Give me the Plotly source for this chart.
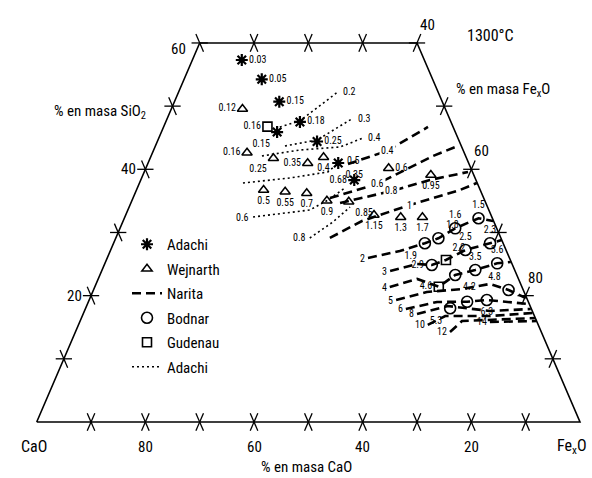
import plotly.graph_objects as go

FONT = "Liberation Sans Narrow, Roboto Condensed, DejaVu Sans Condensed, Liberation Sans, Arial, sans-serif"

# ---- data: compositions in mass % (SiO2, FexO); CaO = 100 - SiO2 - FexO ----
adachi_sio2 = [57.3, 54.25, 50.7, 47.5, 45.9, 44.4, 41.0, 38.3]
adachi_feo = [9.1, 14.3, 19.3, 24.7, 21.3, 29.4, 35.0, 39.3]
adachi_lab = ["0.03", "0.05", "0.15", "0.18", "0.15", "0.25", "0.35", "0.68"]
adachi_pos = ["middle right", "middle right", "middle right", "middle right",
              "bottom left", "middle right", "bottom right", "middle left"]

wej_sio2 = [49.55, 42.63, 41.74, 40.95, 41.9, 36.73, 36.46, 36.2, 35.03, 34.87,
            32.77, 32.4, 32.4, 40.16, 39.1]
wej_feo = [13.1, 17.4, 22.7, 29.4, 31.85, 23.4, 27.5, 31.6, 35.9, 40.0,
           45.7, 50.8, 54.8, 44.7, 53.0]
wej_lab = ["0.12", "0.16", "0.25", "0.35", "0.4", "0.5", "0.55", "0.7", "0.9", "0.85",
           "1.15", "1.3", "1.7", "0.6", "0.95"]
wej_pos = ["middle left", "middle left", "bottom left", "middle left", "bottom center",
           "bottom center", "bottom center", "bottom center", "bottom center", "bottom right",
           "bottom center", "bottom center", "bottom center", "middle right", "bottom center"]

bod_sio2 = [32.25, 30.66, 29.08, 28.29, 27.23, 28.29, 24.85, 24.06, 25.12, 23.27,
            20.9, 19.31, 19.04, 18.0]
bod_feo = [65.2, 61.7, 59.4, 57.3, 65.3, 69.3, 60.3, 68.7, 72.2, 65.4,
           76.4, 73.2, 69.7, 67.1]
bod_lab = ["1.5", "1.6", "1.8", "1.9", "2.5", "2.3", "2.9", "3.5", "3.6", "4.2",
           "4.8", "6.3", "", "5.3"]
bod_pos = ["top center", "top center", "top right", "bottom left", "top center", "top center",
           "middle left", "top center", "top center", "bottom right",
           "top left", "bottom center", "top center", "bottom left"]

gud_sio2 = [46.75, 25.65, 21.42]
gud_feo = [19.1, 62.5, 63.3]
gud_lab = ["0.16", "2.2", "4.6"]
gud_pos = ["middle left", "top right", "middle left"]

# Narita iso-lines (dashed)
narita_lab = ["0.4", "0.6", "0.8", "1", "2", "3", "4", "5", "6", "8", "10", "12", "14"]
narita_sio2 = [
    [40.84, 42.90, 46.70],
    [35.46, 37.68, 42.11, 43.69],
    [34.67, 36.57, 38.31, 39.58],
    [29.13, 31.82, 34.35, 36.73, 37.83],
    [25.96, 27.07, 28.29, 29.08, 30.66, 32.25, 31.82],
    [23.90, 25.01, 24.85, 25.65, 27.23, 28.29, 28.81],
    [21.37, 22.64, 21.42, 23.27, 24.06, 25.12, 25.33],
    [19.31, 20.58, 21.05, 21.85, 20.9, 19.63],
    [17.89, 19.0, 19.04, 19.31, 18.68],
    [17.10, 18.36, 17.57, 17.89],
    [15.36, 16.78, 16.78, 17.25],
    [14.25, 15.99, 16.46],
    [15.83, 15.99],
]
narita_feo = [
    [36.88, 43.03, 48.67],
    [36.25, 43.80, 51.89, 55.70],
    [38.5, 47.1, 53.2, 59.6],
    [39.4, 43.96, 51.5, 59.55, 62.1],
    [48.0, 53.3, 57.3, 59.4, 61.7, 65.2, 68.1],
    [53.1, 57.5, 60.3, 62.5, 65.3, 69.3, 71.2],
    [54.3, 58.7, 63.3, 65.4, 68.7, 72.2, 74.6],
    [56.5, 61.5, 67.75, 72.5, 76.4, 80.2],
    [59.0, 64.2, 69.7, 73.2, 81.2],
    [61.45, 66.5, 74.65, 82.0],
    [64.3, 66.8, 75.0, 82.7],
    [68.95, 70.3, 83.5],
    [75.5, 84.0],
]
narita_at = [1, 1, 1, 2, 0, 0, 0, 0, 0, 0, 0, 0, 0]   # vertex carrying the label

# Adachi iso-lines (dotted)
adl_lab = ["0.2", "0.3", "0.4", "0.5", "0.6", "0.8"]
adl_sio2 = [
    [46.7, 47.65, 52.24],
    [43.69, 44.64, 48.12],
    [42.11, 43.06, 43.53, 44.96],
    [37.83, 38.63, 39.58, 41.47],
    [32.45, 33.56, 35.14, 37.04],
    [29.13, 31.66, 34.03],
]
adl_feo = [
    [21.4, 24.6, 29.3],
    [23.85, 29.3, 34.2],
    [20.4, 26.9, 34.1, 37.6],
    [19.05, 27.3, 33.8, 35.45],
    [23.6, 33.5, 36.05, 38.2],
    [35.7, 38.7, 40.65],
]
adl_at = ["end", "end", "end", "end", "start", "start"]

# axis ticks (mass %)
bottom_ticks_feo = [10, 20, 30, 40, 50, 60, 70, 80, 90]
left_ticks_sio2 = [10, 20, 30, 40, 50, 60]
right_ticks_sio2 = [10, 20, 30, 40, 50, 60]
top_ticks_feo = [10, 20, 30]
cao_labels = [80, 60, 40, 20]
sio2_labels = [20, 40, 60]
feo_labels = [40, 60, 80]
SIO2_MAX = 60


# ---- projection of a composition onto the (stretched) ternary plane ----
def tx(s, f):
    return f + s / 2.0


def ty(s, f):
    return s


def xs(S, F):
    return [tx(s, f) for s, f in zip(S, F)]


def ys(S, F):
    return [ty(s, f) for s, f in zip(S, F)]


fig = go.Figure()

# frame (truncated triangle)
fr_s = [0, 0, SIO2_MAX, SIO2_MAX, 0]
fr_f = [0, 100, 100 - SIO2_MAX, 0, 0]
fig.add_trace(go.Scatter(x=xs(fr_s, fr_f), y=ys(fr_s, fr_f), mode="lines",
                         line=dict(color="black", width=1.6), showlegend=False,
                         hoverinfo="skip"))

# tick crosses
D = {"h": (1.5, 0.0), "l": (0.7, 1.4), "r": (-0.7, 1.4)}
tkx, tky = [], []


def cross(s, f, dirs):
    x0, y0 = tx(s, f), ty(s, f)
    for k in dirs:
        dx, dy = D[k]
        tkx.extend([x0 - dx, x0 + dx, None])
        tky.extend([y0 - dy, y0 + dy, None])


for f in bottom_ticks_feo:
    cross(0, f, "lr")
for s in left_ticks_sio2:
    cross(s, 0, "hr")
for s in right_ticks_sio2:
    cross(s, 100 - s, "hl")
for f in top_ticks_feo:
    cross(SIO2_MAX, f, "lr")
fig.add_trace(go.Scatter(x=tkx, y=tky, mode="lines", line=dict(color="black", width=1.3),
                         showlegend=False, hoverinfo="skip"))

lab_font = dict(family=FONT, size=10, color="black")

# Adachi points
fig.add_trace(go.Scatter(
    x=xs(adachi_sio2, adachi_feo), y=ys(adachi_sio2, adachi_feo), mode="markers+text",
    name="Adachi", legendgroup="g1", legendrank=1,
    marker=dict(symbol="asterisk-open", size=10, color="black", line=dict(width=2.2, color="black")),
    text=adachi_lab, textposition=adachi_pos, textfont=lab_font))

# Wejnarth
fig.add_trace(go.Scatter(
    x=xs(wej_sio2, wej_feo), y=ys(wej_sio2, wej_feo), mode="markers+text",
    name="Wejnarth", legendgroup="g2", legendrank=2,
    marker=dict(symbol="triangle-up-open", size=9, color="black", line=dict(width=1.5, color="black")),
    text=wej_lab, textposition=wej_pos, textfont=lab_font))

# Narita lines
nx, ny = [], []
for S, F in zip(narita_sio2, narita_feo):
    nx.extend(xs(S, F) + [None])
    ny.extend(ys(S, F) + [None])
fig.add_trace(go.Scatter(x=nx, y=ny, mode="lines", name="Narita", legendgroup="g3", legendrank=3,
                         line=dict(color="black", width=2.6, dash="9px,5px")))

# Bodnar
fig.add_trace(go.Scatter(
    x=xs(bod_sio2, bod_feo), y=ys(bod_sio2, bod_feo), mode="markers+text",
    name="Bodnar", legendgroup="g4", legendrank=4,
    marker=dict(symbol="circle-open", size=11, color="black", line=dict(width=1.6, color="black")),
    text=bod_lab, textposition=bod_pos, textfont=lab_font))

# Gudenau
fig.add_trace(go.Scatter(
    x=xs(gud_sio2, gud_feo), y=ys(gud_sio2, gud_feo), mode="markers+text",
    name="Gudenau", legendgroup="g5", legendrank=5,
    marker=dict(symbol="square-open", size=9, color="black", line=dict(width=1.6, color="black")),
    text=gud_lab, textposition=gud_pos, textfont=lab_font))

# Adachi dotted lines
ax_, ay_ = [], []
for S, F in zip(adl_sio2, adl_feo):
    ax_.extend(xs(S, F) + [None])
    ay_.extend(ys(S, F) + [None])
fig.add_trace(go.Scatter(x=ax_, y=ay_, mode="lines", name="Adachi", legendgroup="g6", legendrank=6,
                         line=dict(color="black", width=1.6, dash="2px,3px")))

ann = []
# line labels
for lab, S, F, i in zip(narita_lab, narita_sio2, narita_feo, narita_at):
    if i == 0:
        ann.append(dict(x=tx(S[0], F[0]), y=ty(S[0], F[0]), text=lab, showarrow=False,
                        xanchor="right", xshift=-1, font=lab_font))
    else:
        ann.append(dict(x=tx(S[i], F[i]), y=ty(S[i], F[i]), text=lab, showarrow=False,
                        bgcolor="white", font=lab_font))
for lab, S, F, w in zip(adl_lab, adl_sio2, adl_feo, adl_at):
    if w == "end":
        ann.append(dict(x=tx(S[-1], F[-1]), y=ty(S[-1], F[-1]), text=lab, showarrow=False,
                        xanchor="left", xshift=3, font=lab_font))
    else:
        ann.append(dict(x=tx(S[0], F[0]), y=ty(S[0], F[0]), text=lab, showarrow=False,
                        xanchor="right", xshift=-2, font=lab_font))

tick_font = dict(family=FONT, size=15, color="black")
for c in cao_labels:
    ann.append(dict(x=tx(0, 100 - c), y=0, text=str(c), showarrow=False, xanchor="center",
                    yanchor="top", yshift=-14, font=tick_font))
for s in sio2_labels:
    ann.append(dict(x=tx(s, 0), y=ty(s, 0), text=str(s), showarrow=False, xanchor="right",
                    yanchor="middle", xshift=-12 if s == 60 else -7,
                    yshift=-6 if s == 60 else 0, font=tick_font))
for f in feo_labels:
    ann.append(dict(x=tx(100 - f, f), y=ty(100 - f, f), text=str(f), showarrow=False,
                    xanchor="center", yanchor="middle", xshift=10, yshift=18, font=tick_font))

big = dict(family=FONT, size=15, color="black")
big16 = dict(family=FONT, size=16, color="black")
paper_texts = [
    (100, 112, "% en masa SiO<sub>2</sub>", big),
    (503, 90, "% en masa Fe<sub>x</sub>O", big),
    (490, 36, "1300°C", big16),
    (307, 467, "% en masa CaO", big),
    (34, 446, "CaO", big16),
    (572, 446, "Fe<sub>x</sub>O", big16),
]
for px, py, t, fnt in paper_texts:
    ann.append(dict(x=px / 592, y=1 - py / 478, xref="paper", yref="paper", text=t,
                    xanchor="center", yanchor="middle", showarrow=False, font=fnt))

fig.update_layout(
    width=592, height=478, margin=dict(l=0, r=0, t=0, b=0),
    paper_bgcolor="white", plot_bgcolor="white",
    xaxis=dict(range=[-6.755, 102.21], visible=False, fixedrange=True),
    yaxis=dict(range=[-8.865, 66.80], visible=False, fixedrange=True),
    showlegend=True,
    legend=dict(x=127 / 592, y=1 - 228 / 478, xanchor="left", yanchor="top",
                bgcolor="rgba(0,0,0,0)", traceorder="grouped", tracegroupgap=2,
                font=dict(family=FONT, size=15, color="black")),
    annotations=ann,
)

fig.write_html("out.html", config={"displayModeBar": False},
               post_script="document.body.style.margin='0px';")
